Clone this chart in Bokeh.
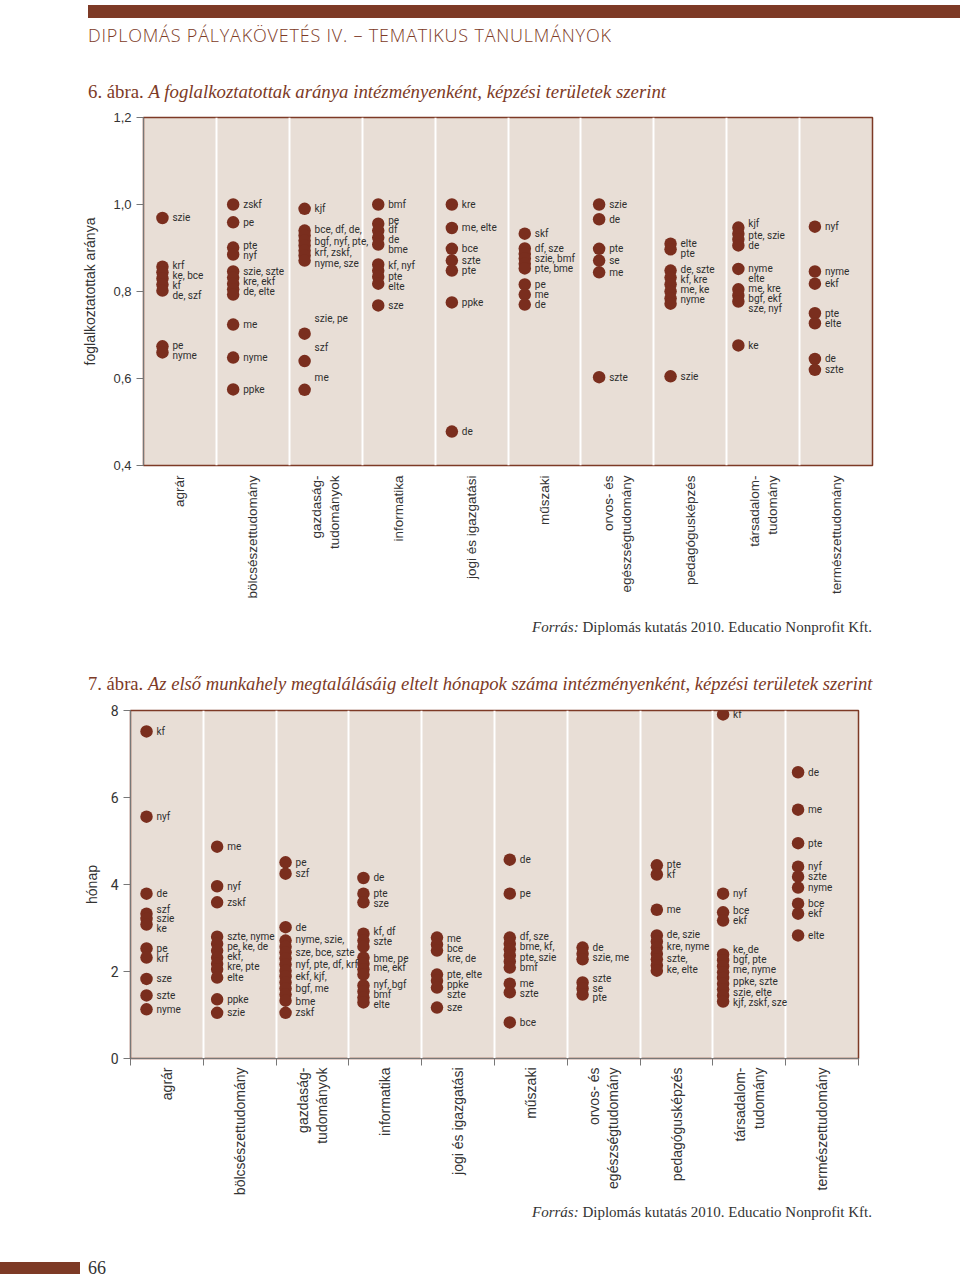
import math
from bokeh.plotting import figure
from bokeh.models import ColumnDataSource, FixedTicker, Div, Range1d, CustomJSTickFormatter
from bokeh.layouts import column, row
from bokeh.embed import file_html
from bokeh.resources import INLINE
from bokeh.core.properties import value

# ---------------- data ----------------
categories = ["agrár", "bölcsészettudomány", "gazdaság-\ntudományok", "informatika",
              "jogi és igazgatási", "műszaki", "orvos- és\negészségtudomány",
              "pedagógusképzés", "társadalom-\ntudomány", "természettudomány"]

emp_ticks = [0.4, 0.6, 0.8, 1.0, 1.2]
emp_tick_labels = ["0,4", "0,6", "0,8", "1,0", "1,2"]
month_ticks = [0, 2, 4, 6, 8]
month_tick_labels = ["0", "2", "4", "6", "8"]

# Figure 6: share of employed (dots = institutions, labels = institution names)
emp_agrar = [0.969, 0.857, 0.844, 0.830, 0.816, 0.802, 0.674, 0.660]
emp_agrar_lab = [("szie", 0.969), ("krf", 0.860), ("ke, bce", 0.837), ("kf", 0.814),
                 ("de, szf", 0.791), ("pe", 0.676), ("nyme", 0.653)]
emp_bolcs = [1.000, 0.959, 0.901, 0.885, 0.846, 0.832, 0.818, 0.805, 0.793, 0.724, 0.648, 0.575]
emp_bolcs_lab = [("zskf", 1.000), ("pe", 0.959), ("pte", 0.906), ("nyf", 0.883),
                 ("szie, szte", 0.847), ("kre, ekf", 0.824), ("de, elte", 0.801),
                 ("me", 0.724), ("nyme", 0.648), ("ppke", 0.575)]
emp_gazd = [0.990, 0.940, 0.929, 0.917, 0.906, 0.894, 0.883, 0.871, 0.703, 0.640, 0.574]
emp_gazd_lab = [("kjf", 0.990), ("bce, df, de,", 0.943), ("bgf, nyf, pte,", 0.916),
                ("krf, zskf,", 0.889), ("nyme, sze", 0.864), ("szie, pe", 0.738),
                ("szf", 0.672), ("me", 0.603)]
emp_info = [1.000, 0.956, 0.940, 0.924, 0.908, 0.862, 0.848, 0.834, 0.818, 0.768]
emp_info_lab = [("bmf", 1.000), ("pe", 0.963), ("df", 0.943), ("de", 0.920), ("bme", 0.897),
                ("kf, nyf", 0.860), ("pte", 0.834), ("elte", 0.811), ("sze", 0.768)]
emp_jogi = [1.000, 0.946, 0.898, 0.871, 0.848, 0.775, 0.478]
emp_jogi_lab = [("kre", 1.000), ("me, elte", 0.946), ("bce", 0.898), ("szte", 0.871),
                ("pte", 0.848), ("ppke", 0.775), ("de", 0.478)]
emp_musz = [0.933, 0.899, 0.887, 0.876, 0.864, 0.853, 0.816, 0.793, 0.770]
emp_musz_lab = [("skf", 0.933), ("df, sze", 0.898), ("szie, bmf", 0.875), ("pte, bme", 0.852),
                ("pe", 0.816), ("me", 0.793), ("de", 0.770)]
emp_orvos = [1.000, 0.966, 0.898, 0.871, 0.844, 0.603]
emp_orvos_lab = [("szie", 1.000), ("de", 0.966), ("pte", 0.898), ("se", 0.871),
                 ("me", 0.844), ("szte", 0.603)]
emp_ped = [0.910, 0.897, 0.848, 0.832, 0.816, 0.800, 0.784, 0.772, 0.605]
emp_ped_lab = [("elte", 0.911), ("pte", 0.888), ("de, szte", 0.850), ("kf, kre", 0.827),
               ("me, ke", 0.804), ("nyme", 0.781), ("szie", 0.605)]
emp_tars = [0.947, 0.933, 0.920, 0.906, 0.852, 0.805, 0.791, 0.777, 0.676]
emp_tars_lab = [("kjf", 0.956), ("pte, szie", 0.929), ("de", 0.906), ("nyme", 0.852),
                ("elte", 0.831), ("me, kre", 0.807), ("bgf, ekf", 0.784), ("sze, nyf", 0.761),
                ("ke", 0.676)]
emp_term = [0.949, 0.846, 0.818, 0.750, 0.727, 0.645, 0.620]
emp_term_lab = [("nyf", 0.949), ("nyme", 0.846), ("ekf", 0.818), ("pte", 0.750),
                ("elte", 0.727), ("de", 0.645), ("szte", 0.620)]

# Figure 7: months until first job
mon_agrar = [7.52, 5.56, 3.79, 3.33, 3.21, 3.08, 2.53, 2.32, 1.83, 1.45, 1.13]
mon_agrar_lab = [("kf", 7.52), ("nyf", 5.56), ("de", 3.79), ("szf", 3.43), ("szie", 3.21),
                 ("ke", 2.98), ("pe", 2.54), ("krf", 2.31), ("sze", 1.83), ("szte", 1.45),
                 ("nyme", 1.13)]
mon_bolcs = [4.87, 3.96, 3.59, 2.80, 2.64, 2.48, 2.32, 2.18, 2.05, 1.86, 1.36, 1.05]
mon_bolcs_lab = [("me", 4.87), ("nyf", 3.96), ("zskf", 3.59), ("szte, nyme", 2.81),
                 ("pe, ke, de", 2.58), ("ekf,", 2.35), ("kre, pte", 2.11), ("elte", 1.86),
                 ("ppke", 1.36), ("szie", 1.05)]
mon_gazd = [4.51, 4.25, 3.02, 2.71, 2.57, 2.44, 2.30, 2.16, 2.02, 1.89, 1.75, 1.61, 1.47, 1.33, 1.05]
mon_gazd_lab = [("pe", 4.50), ("szf", 4.25), ("de", 3.02), ("nyme, szie,", 2.74),
                ("sze, bce, szte", 2.44), ("nyf, pte, df, krf", 2.16), ("ekf, kjf,", 1.89),
                ("bgf, me", 1.60), ("bme", 1.32), ("zskf", 1.05)]
mon_info = [4.15, 3.79, 3.59, 2.87, 2.71, 2.57, 2.32, 2.18, 2.05, 1.93, 1.68, 1.54, 1.40, 1.29]
mon_info_lab = [("de", 4.15), ("pte", 3.80), ("sze", 3.56), ("kf, df", 2.93), ("szte", 2.69),
                ("bme, pe", 2.31), ("me, ekf", 2.09), ("nyf, bgf", 1.70), ("bmf", 1.47),
                ("elte", 1.24)]
mon_jogi = [2.78, 2.62, 2.48, 1.93, 1.79, 1.63, 1.17]
mon_jogi_lab = [("me", 2.77), ("bce", 2.54), ("kre, de", 2.31), ("pte, elte", 1.93),
                ("ppke", 1.70), ("szte", 1.47), ("sze", 1.17)]
mon_musz = [4.57, 3.79, 2.78, 2.64, 2.51, 2.37, 2.23, 2.09, 1.72, 1.52, 0.83]
mon_musz_lab = [("de", 4.57), ("pe", 3.79), ("df, sze", 2.80), ("bme, kf,", 2.57),
                ("pte, szie", 2.33), ("bmf", 2.10), ("me", 1.73), ("szte", 1.50), ("bce", 0.83)]
mon_orvos = [2.55, 2.41, 2.28, 1.75, 1.61, 1.47]
mon_orvos_lab = [("de", 2.56), ("szie, me", 2.33), ("szte", 1.83), ("se", 1.62), ("pte", 1.41)]
mon_ped = [4.44, 4.23, 3.42, 2.83, 2.69, 2.55, 2.41, 2.28, 2.14, 2.02]
mon_ped_lab = [("pte", 4.45), ("kf", 4.22), ("me", 3.42), ("de, szie", 2.85),
               ("kre, nyme", 2.57), ("szte,", 2.31), ("ke, elte", 2.04)]
mon_tars = [7.91, 3.79, 3.36, 3.17, 2.39, 2.26, 2.12, 1.98, 1.85, 1.72, 1.59, 1.45, 1.31]
mon_tars_lab = [("kf", 7.91), ("nyf", 3.79), ("bce", 3.40), ("ekf", 3.17), ("ke, de", 2.50),
                ("bgf, pte", 2.28), ("me, nyme", 2.05), ("ppke, szte", 1.78),
                ("szie, elte", 1.52), ("kjf, zskf, sze", 1.29)]
mon_term = [6.58, 5.72, 4.95, 4.41, 4.18, 3.93, 3.56, 3.33, 2.83]
mon_term_lab = [("de", 6.58), ("me", 5.72), ("pte", 4.95), ("nyf", 4.41), ("szte", 4.18),
                ("nyme", 3.93), ("bce", 3.56), ("ekf", 3.33), ("elte", 2.83)]

emp_dots = [emp_agrar, emp_bolcs, emp_gazd, emp_info, emp_jogi, emp_musz, emp_orvos, emp_ped, emp_tars, emp_term]
emp_labels = [emp_agrar_lab, emp_bolcs_lab, emp_gazd_lab, emp_info_lab, emp_jogi_lab, emp_musz_lab,
              emp_orvos_lab, emp_ped_lab, emp_tars_lab, emp_term_lab]
mon_dots = [mon_agrar, mon_bolcs, mon_gazd, mon_info, mon_jogi, mon_musz, mon_orvos, mon_ped, mon_tars, mon_term]
mon_labels = [mon_agrar_lab, mon_bolcs_lab, mon_gazd_lab, mon_info_lab, mon_jogi_lab, mon_musz_lab,
              mon_orvos_lab, mon_ped_lab, mon_tars_lab, mon_term_lab]

# ---------------- styles ----------------
BROWN = "#7d3a26"
DOT = "#7a2e1e"
BG = "#e8ded6"
TXT = "#333333"
NARROW = "Roboto"
SANS = "Liberation Sans"
SERIF = "Liberation Serif"
W = 960
# horizontal placement of the dot column inside each category band (fraction of band)
EMP_DOT_POS = [0.26, 0.23, 0.21, 0.22, 0.23, 0.23, 0.25, 0.23, 0.16, 0.21]
MON_DOT_POS = [0.22, 0.19, 0.13, 0.20, 0.21, 0.21, 0.21, 0.23, 0.14, 0.17]


def make_fig(height, y0, y1, bl, br, bt, bb, ticks, tick_labels, ylabel, dots, labels, offs,
             tick_font, tick_size, cat_size, boundary_ticks, ylab_standoff, cat_standoff):
    p = figure(width=W, height=height, x_range=Range1d(0, 10), y_range=Range1d(y0, y1),
               output_backend="svg", toolbar_location=None,
               min_border_left=bl, min_border_right=br, min_border_top=bt, min_border_bottom=bb)
    p.background_fill_color = BG
    p.border_fill_color = "white"
    p.outline_line_color = BROWN
    p.outline_line_width = 1.5
    p.ygrid.visible = False
    p.xgrid.ticker = FixedTicker(ticks=list(range(1, 10)))
    p.xgrid.grid_line_color = "white"
    p.xgrid.grid_line_width = 2

    ya = p.yaxis[0]
    ya.ticker = FixedTicker(ticks=ticks)
    ya.major_label_overrides = {t: l for t, l in zip(ticks, tick_labels)}
    ya.major_label_text_font = tick_font
    ya.major_label_text_font_size = tick_size
    ya.major_label_text_color = TXT
    ya.major_tick_out = 7
    ya.major_tick_in = 0
    ya.minor_tick_line_color = None
    ya.axis_line_color = "#777777"
    ya.major_tick_line_color = "#777777"
    ya.axis_label = ylabel
    ya.axis_label_text_font = SANS
    ya.axis_label_text_font_size = "14px"
    ya.axis_label_text_font_style = "normal"
    ya.axis_label_text_color = TXT
    ya.axis_label_standoff = ylab_standoff

    xa = p.xaxis[0]
    xa.ticker = FixedTicker(ticks=[i + 0.5 for i in range(10)], minor_ticks=list(range(11)))
    xa.formatter = CustomJSTickFormatter(args=dict(names=categories),
                                         code="return names[Math.floor(tick)] || '';")
    xa.major_label_orientation = math.pi / 2
    xa.major_label_text_font = SANS
    xa.major_label_text_font_size = cat_size
    xa.major_label_text_color = TXT
    xa.major_label_standoff = cat_standoff
    xa.major_tick_out = 0
    xa.major_tick_in = 0
    if boundary_ticks:
        xa.minor_tick_out = 7
        xa.minor_tick_in = 0
        xa.minor_tick_line_color = "#777777"
        xa.axis_line_color = "#777777"
    else:
        xa.minor_tick_line_color = None
        xa.axis_line_color = None

    xs, ys, lx, ly, lt = [], [], [], [], []
    for i, (d, lab) in enumerate(zip(dots, labels)):
        xs += [i + offs[i]] * len(d)
        ys += d
        for t, v in lab:
            lx.append(i + offs[i])
            ly.append(v)
            lt.append(t)
    p.scatter(x="x", y="y", source=ColumnDataSource(dict(x=xs, y=ys)), size=12.5,
              fill_color=DOT, line_color=None)
    p.text(x="x", y="y", text="t", source=ColumnDataSource(dict(x=lx, y=ly, t=lt)),
           x_offset=10, text_baseline="middle", text_align="left",
           text_font=value(NARROW), text_font_size="10px", text_color="#2e2e2e")
    return p


fig1 = make_fig(505, 0.4, 1.2, 143, 88, 12, 145, emp_ticks, emp_tick_labels,
                "foglalkoztatottak aránya", emp_dots, emp_labels, EMP_DOT_POS, SANS, "13px",
                "13.5px", False, 12, 6)
fig2 = make_fig(504, 0, 8, 130, 102, 10, 146, month_ticks, month_tick_labels,
                "hónap", mon_dots, mon_labels, MON_DOT_POS, NARROW, "14px", "14px", True, 8, 2)

header = Div(width=W, height=105, margin=(0, 0, 0, 0), text=f"""
<div style="position:relative;width:{W}px;height:105px;">
 <div style="position:absolute;left:88px;top:5px;width:872px;height:13px;background:{BROWN};"></div>
 <div style="position:absolute;left:88px;top:23px;font-family:'Open Sans';font-weight:300;font-size:18px;line-height:24px;color:{BROWN};white-space:nowrap;letter-spacing:0.8px;">DIPLOMÁS PÁLYAKÖVETÉS IV. – TEMATIKUS TANULMÁNYOK</div>
 <div style="position:absolute;left:88px;top:82px;font-family:'{SERIF}';font-size:18.8px;line-height:20px;color:{BROWN};white-space:nowrap;">6. ábra. <i>A foglalkoztatottak aránya intézményenként, képzési területek szerint</i></div>
</div>""")

mid = Div(width=W, height=90, margin=(0, 0, 0, 0), text=f"""
<div style="position:relative;width:{W}px;height:90px;">
 <div style="position:absolute;right:88px;top:8px;font-family:'{SERIF}';font-size:15px;line-height:18px;color:{TXT};white-space:nowrap;"><i>Forrás:</i> Diplomás kutatás 2010. Educatio Nonprofit Kft.</div>
 <div style="position:absolute;left:88px;top:64px;font-family:'{SERIF}';font-size:18.6px;line-height:20px;color:{BROWN};white-space:nowrap;">7. ábra. <i>Az első munkahely megtalálásáig eltelt hónapok száma intézményenként, képzési területek szerint</i></div>
</div>""")

footer = Div(width=W, height=74, margin=(0, 0, 0, 0), text=f"""
<div style="position:relative;width:{W}px;height:74px;">
 <div style="position:absolute;right:88px;top:-1px;font-family:'{SERIF}';font-size:15px;line-height:18px;color:{TXT};white-space:nowrap;"><i>Forrás:</i> Diplomás kutatás 2010. Educatio Nonprofit Kft.</div>
 <div style="position:absolute;left:0px;top:58px;width:80px;height:12px;background:{BROWN};"></div>
 <div style="position:absolute;left:88px;top:54px;font-family:'{SERIF}';font-size:18px;line-height:20px;color:{TXT};">66</div>
</div>""")

layout = column(header, row(fig1), mid, row(fig2), footer, spacing=0)
open("out.html", "w").write(file_html(layout, INLINE))
